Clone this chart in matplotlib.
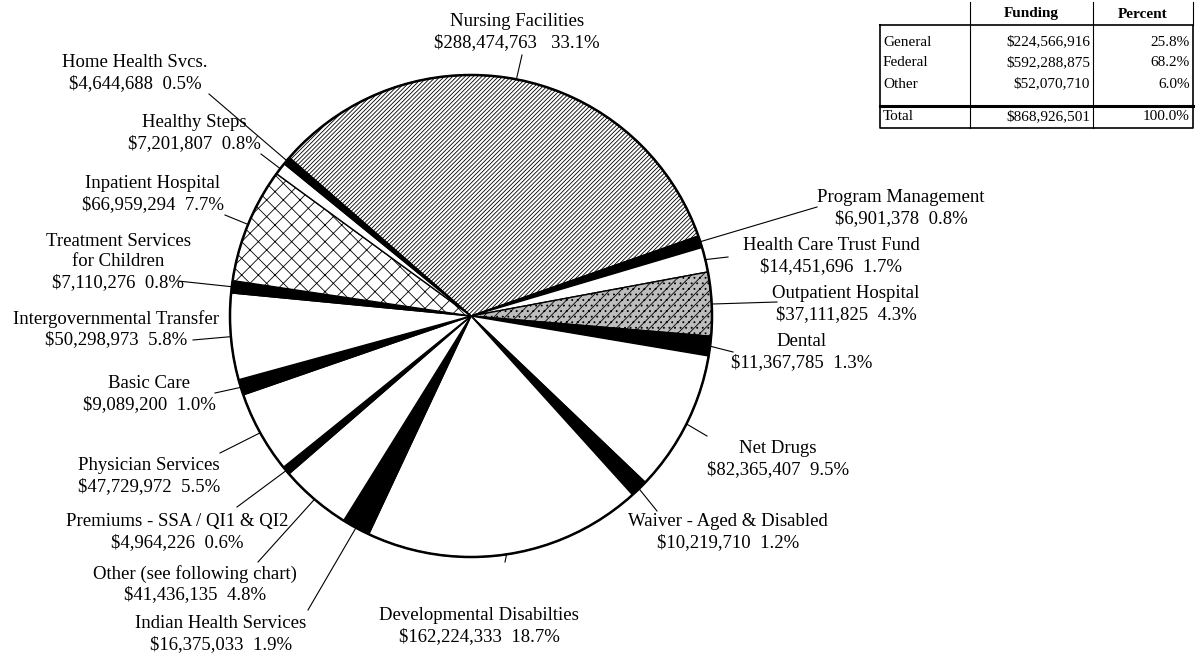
import numpy as np
import matplotlib.pyplot as plt

plt.rcParams['font.family'] = ['Liberation Serif', 'DejaVu Serif']
plt.rcParams['hatch.linewidth'] = 0.6

# slices, clockwise from Nursing Facilities
labels = ["Nursing Facilities", "Program Management", "Health Care Trust Fund",
          "Outpatient Hospital", "Dental", "Net Drugs", "Waiver - Aged & Disabled",
          "Developmental Disabilties", "Indian Health Services",
          "Other (see following chart)", "Premiums - SSA / QI1 & QI2",
          "Physician Services", "Basic Care", "Intergovernmental Transfer",
          "Treatment Services\nfor Children", "Inpatient Hospital",
          "Healthy Steps", "Home Health Svcs."]
amounts = [288474763, 6901378, 14451696, 37111825, 11367785, 82365407, 10219710,
           162224333, 16375033, 41436135, 4964226, 47729972, 9089200, 50298973,
           7110276, 66959294, 7201807, 4644688]
percents = ["33.1%", "0.8%", "1.7%", "4.3%", "1.3%", "9.5%", "1.2%", "18.7%", "1.9%",
            "4.8%", "0.6%", "5.5%", "1.0%", "5.8%", "0.8%", "7.7%", "0.8%", "0.5%"]

# funding table
src_names = ["General", "Federal", "Other"]
src_funding = ["$224,566,916", "$592,288,875", "$52,070,710"]
src_percent = ["25.8%", "68.2%", "6.0%"]
total_funding = "$868,926,501"
total_percent = "100.0%"

W, H = 1203, 654
fig = plt.figure(figsize=(W / 100, H / 100), dpi=100)
ax = fig.add_axes([0, 0, 1, 1])


def py(y):
    # pixel row (from top) -> data y
    return H - y


# fill style per slice: w = white, k = black, plus the three patterned ones
fills = ['w', 'k', 'w', 'g', 'k', 'w', 'k', 'w', 'k', 'w', 'k', 'w', 'k', 'w', 'k', 'w', 'w', 'k']
hatches = ['////////', None, None, '///...', None, None, None, None, None, None, None,
           None, None, None, None, 'xx', None, None]
face = {'w': 'white', 'k': 'black', 'g': '#bdbdbd'}
colors = [face[f] for f in fills]

cx, cy, R = 471, py(316), 241
wedges, _ = ax.pie(amounts, center=(cx, cy), radius=R, startangle=138.9,
                   counterclock=False, colors=colors, hatch=hatches,
                   wedgeprops=dict(edgecolor='black', linewidth=1.0))
ax.add_patch(plt.Circle((cx, cy), R, fill=False, lw=1.8, ec='black', zorder=5))

# label block centers and leader end points (pixel coords)
text_pos = [(517, 32), (901, 208), (831, 256), (846, 304), (802, 352), (778, 459),
            (728, 532), (479, 626), (221, 634), (195, 584), (177, 532), (149, 476),
            (149, 394), (116, 329), (118, 262), (153, 194), (194, 133), (135, 73)]
leader_end = [(522, 55), (817, 207), (728, 257), (777, 302), (733, 352), (707, 436),
              (657, 511), (505, 562), (308, 610), (258, 562), (237, 507), (220, 453),
              (215, 393), (193, 340), (178, 281), (225, 215), (261, 154), (209, 94)]

for w, lab, amt, pct, tp, le in zip(wedges, labels, amounts, percents, text_pos, leader_end):
    mid = np.deg2rad((w.theta1 + w.theta2) / 2)
    x0, y0 = cx + R * np.cos(mid), cy + R * np.sin(mid)
    ax.plot([x0, le[0]], [y0, py(le[1])], color='black', lw=0.8, zorder=6)
    gap = "   " if lab == "Nursing Facilities" else "  "
    txt = f"{lab}\n${amt:,}{gap}{pct}"
    ax.text(tp[0], py(tp[1]), txt, ha='center', va='center', fontsize=13.5,
            linespacing=1.25, multialignment='center')

# table at top right
xs = [880, 970, 1093, 1193]
tfs = 11
for x in xs[1:]:
    ax.plot([x, x], [py(2), py(25)], color='black', lw=0.8)
ax.text((xs[1] + xs[2]) / 2, py(14), "Funding", ha='center', va='center',
        fontsize=tfs, fontweight='bold')
ax.text((xs[2] + xs[3]) / 2, py(14), "Percent", ha='center', va='center',
        fontsize=tfs, fontweight='bold')
top, bot, thick = 25, 128, 106
ax.plot([xs[0], xs[3], xs[3], xs[0], xs[0]], [py(top), py(top), py(bot), py(bot), py(top)],
        color='black', lw=1.2)
for x in xs[1:3]:
    ax.plot([x, x], [py(top), py(bot)], color='black', lw=0.8)
ax.plot([xs[0], xs[3]], [py(thick), py(thick)], color='black', lw=2.2)
rows_y = [42, 63, 84]
for name, fund, pct, yy in zip(src_names, src_funding, src_percent, rows_y):
    ax.text(xs[0] + 3, py(yy), name, ha='left', va='center', fontsize=tfs)
    ax.text(xs[2] - 3, py(yy), fund, ha='right', va='center', fontsize=tfs)
    ax.text(xs[3] - 3, py(yy), pct, ha='right', va='center', fontsize=tfs)
ax.text(xs[0] + 3, py(117), "Total", ha='left', va='center', fontsize=tfs)
ax.text(xs[2] - 3, py(117), total_funding, ha='right', va='center', fontsize=tfs)
ax.text(xs[3] - 3, py(117), total_percent, ha='right', va='center', fontsize=tfs)

ax.set_xlim(0, W)
ax.set_ylim(0, H)
ax.set_aspect('equal')
ax.axis('off')
fig.savefig('out.png', dpi=100, facecolor='white')
